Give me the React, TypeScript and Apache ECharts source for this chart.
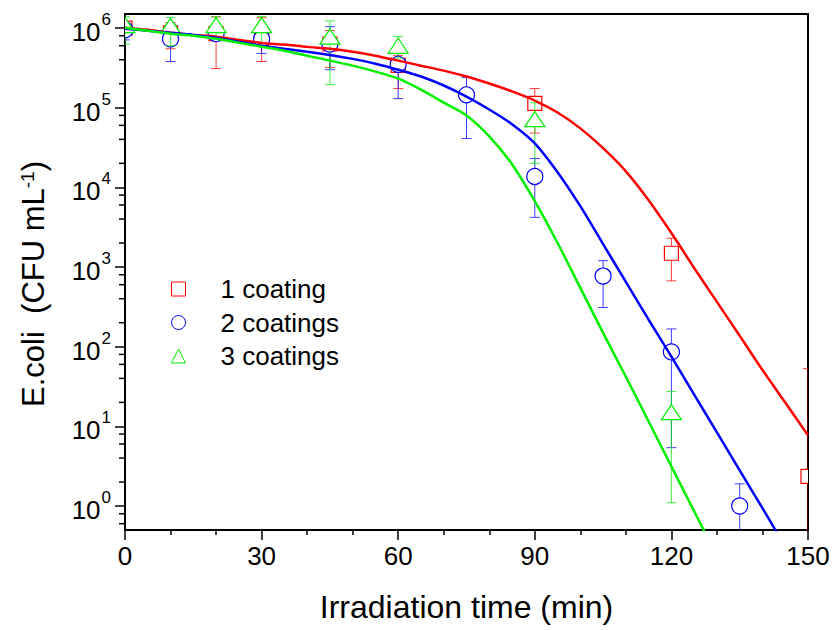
import React, { useEffect, useRef } from 'react';
import * as echarts from 'echarts';

const FONT = '"Liberation Sans", Arial, Helvetica, sans-serif';
const RED = '#ff0000';
const BLUE = '#0000ff';
const GREEN = '#00f000';

const legendNames = ['1 coating', '2 coatings', '3 coatings'];

// Measured data: 1 coating
const t1 = [0, 10, 20, 30, 45, 60, 90, 120, 150];
const v1 = [1.0e6, 8.7e5, 8.5e5, 7.4e5, 6.3e5, 3.4e5, 1.13e5, 1.49e3, 2.35];
const lo1 = [9.0e5, 5.5e5, 3.1e5, 3.8e5, 3.2e5, 1.74e5, 4.8e4, 670, 0.1];
const hi1 = [1.15e6, 1.17e6, 1.38e6, 1.35e6, 9.3e5, 4.5e5, 1.74e5, 2.3e3, 53];

// Measured data: 2 coatings
const t2 = [0, 10, 20, 30, 45, 60, 75, 90, 105, 120, 135];
const v2 = [9.5e5, 7.3e5, 8.5e5, 7.3e5, 6.3e5, 3.5e5, 1.45e5, 1.37e4, 770, 86, 1.0];
const lo2 = [7.1e5, 3.8e5, 7.0e5, 4.8e5, 3.0e5, 1.3e5, 4.1e4, 4.2e3, 310, 5.4, 0.1];
const hi2 = [1.1e6, 1.12e6, 1.0e6, 9.3e5, 1.04e6, 4.9e5, 2.4e5, 2.3e4, 1.2e3, 167, 1.9];

// Measured data: 3 coatings
const t3 = [0, 10, 20, 30, 45, 60, 90, 120];
const v3 = [1.07e6, 1.05e6, 1.07e6, 1.07e6, 7.7e5, 5.9e5, 7.1e4, 14.9];
const lo3 = [6.3e5, 6.0e5, 7.3e5, 6.0e5, 1.95e5, 4.2e5, 2.0e4, 1.1];
const hi3 = [1.38e6, 1.35e6, 1.38e6, 1.4e6, 1.23e6, 7.8e5, 1.15e5, 27.4];

// Fitted curves (every 5 min)
const fitT = [0, 5, 10, 15, 20, 25, 30, 35, 40, 45, 50, 55, 60, 65, 70, 75, 80, 85, 90, 95, 100, 105, 110, 115, 120, 125, 130, 135, 140, 145, 150];
const fit1 = [1.01e6, 9.5e5, 8.7e5, 8.2e5, 7.8e5, 7.1e5, 6.5e5, 6.2e5, 5.8e5, 5.5e5, 5.05e5, 4.5e5, 3.9e5, 3.37e5, 2.92e5, 2.46e5, 2.01e5, 1.6e5, 1.23e5, 8.7e4, 5.5e4, 3.1e4, 1.59e4, 6.9e3, 2.67e3, 973, 365, 137, 51, 19.9, 7.7];
const fit2 = [9.8e5, 9.25e5, 8.7e5, 8.2e5, 7.55e5, 6.7e5, 6.0e5, 5.5e5, 5.05e5, 4.6e5, 4.1e5, 3.57e5, 3.0e5, 2.46e5, 1.9e5, 1.38e5, 9.5e4, 6.2e4, 3.57e4, 1.55e4, 5.8e3, 1.94e3, 650, 218, 75, 25, 8.4, 2.8, 0.94, 0.31, 0.105];
const fit3 = [1.01e6, 9.25e5, 8.5e5, 8.0e5, 7.35e5, 6.55e5, 5.83e5, 5.2e5, 4.5e5, 3.9e5, 3.37e5, 2.84e5, 2.32e5, 1.69e5, 1.16e5, 8.0e4, 4.36e4, 1.95e4, 6.7e3, 2.0e3, 547, 149, 42, 11.5, 3.14, 0.86, 0.234, 0.064, 0.0175, 0.0048, 0.0013];

// Y axis minor ticks (2,4,6,8 per decade)
const yMinorTicks = [0.6, 0.8, 2, 4, 6, 8, 20, 40, 60, 80, 200, 400, 600, 800, 2e3, 4e3, 6e3, 8e3, 2e4, 4e4, 6e4, 8e4, 2e5, 4e5, 6e5, 8e5];

const xTitle = 'Irradiation time (min)';
const yTitle = 'E.coli  (CFU mL{sup|-1})';

type MarkerKind = 'square' | 'circle' | 'triangle';

function markerShape(kind: MarkerKind, x: number, y: number, color: string) {
  const style = { fill: '#ffffff', stroke: color, lineWidth: 1.2 };
  if (kind === 'square') {
    return { type: 'rect', shape: { x: x - 7, y: y - 7, width: 14, height: 14 }, style };
  }
  if (kind === 'circle') {
    return { type: 'circle', shape: { cx: x, cy: y, r: 8 }, style };
  }
  return {
    type: 'polygon',
    shape: { points: [[x, y - 8], [x + 10, y + 7], [x - 10, y + 7]] },
    style,
  };
}

function errSeries(name: string, color: string, kind: MarkerKind, ts: number[], vs: number[], los: number[], his: number[]) {
  return {
    type: 'custom',
    name,
    clip: true,
    silent: true,
    z: 3,
    data: ts.map((t, i) => [t, vs[i], los[i], his[i]]),
    encode: { x: 0, y: [1, 2, 3] },
    renderItem: (params: any, api: any) => {
      const t = api.value(0);
      const c = api.coord([t, api.value(1)]);
      const lo = api.coord([t, api.value(2)]);
      const hi = api.coord([t, api.value(3)]);
      const cw = 5;
      const ls = { stroke: color, lineWidth: 1, opacity: 0.75 };
      return {
        type: 'group',
        children: [
          { type: 'line', shape: { x1: c[0], y1: lo[1], x2: c[0], y2: hi[1] }, style: ls },
          { type: 'line', shape: { x1: c[0] - cw, y1: lo[1], x2: c[0] + cw, y2: lo[1] }, style: ls },
          { type: 'line', shape: { x1: c[0] - cw, y1: hi[1], x2: c[0] + cw, y2: hi[1] }, style: ls },
          markerShape(kind, c[0], c[1], color),
        ],
      };
    },
  };
}

function fitSeries(name: string, color: string, vals: number[]) {
  return {
    type: 'line',
    name,
    data: fitT.map((t, i) => [t, vals[i]]),
    showSymbol: false,
    smooth: 0.3,
    clip: true,
    silent: true,
    z: 5,
    lineStyle: { color, width: 2.5 },
  };
}

export default function App() {
  const ref = useRef<HTMLDivElement>(null);
  useEffect(() => {
    if (!ref.current) return;
    const chart = echarts.init(ref.current, undefined, { renderer: 'svg' });
    const axisLine = { show: true, onZero: false, lineStyle: { color: '#000', width: 2 } };
    chart.setOption({
      animation: false,
      backgroundColor: '#ffffff',
      textStyle: { fontFamily: FONT },
      grid: { left: 125, right: 26, top: 14, bottom: 100, containLabel: false },
      legend: {
        orient: 'vertical',
        left: 166,
        top: 271,
        itemWidth: 14,
        itemHeight: 14,
        itemGap: 7.5,
        selectedMode: false,
        textStyle: { fontFamily: FONT, fontSize: 26, color: '#000', lineHeight: 25, padding: [0, 0, 0, 30] },
        data: [
          { name: legendNames[0], icon: 'rect', itemStyle: { color: '#fff', borderColor: RED, borderWidth: 1 } },
          { name: legendNames[1], icon: 'circle', itemStyle: { color: '#fff', borderColor: BLUE, borderWidth: 1 } },
          { name: legendNames[2], icon: 'triangle', itemStyle: { color: '#fff', borderColor: GREEN, borderWidth: 1 } },
        ],
      },
      xAxis: [
        {
          type: 'value',
          position: 'bottom',
          min: 0,
          max: 150,
          interval: 30,
          axisLine,
          axisTick: { show: true, length: 10, lineStyle: { color: '#000', width: 1.5 } },
          minorTick: { show: true, splitNumber: 3, length: 5, lineStyle: { color: '#000', width: 1.5 } },
          splitLine: { show: false },
          axisLabel: { fontFamily: FONT, fontSize: 26, color: '#000', margin: 13 },
          name: xTitle,
          nameLocation: 'middle',
          nameGap: 61,
          nameTextStyle: { fontFamily: FONT, fontSize: 32, color: '#000' },
        },
        {
          type: 'value',
          position: 'top',
          min: 0,
          max: 150,
          axisLine,
          axisTick: { show: false },
          axisLabel: { show: false },
          splitLine: { show: false },
        },
      ],
      yAxis: [
        {
          type: 'log',
          logBase: 10,
          position: 'left',
          min: 0.5,
          max: 1.5e6,
          axisLine,
          axisTick: { show: true, length: 10, lineStyle: { color: '#000', width: 1.5 } },
          splitLine: { show: false },
          axisLabel: {
            showMinLabel: false,
            showMaxLabel: false,
            margin: 14,
            color: '#000',
            formatter: (v: number) => {
              const e = Math.log10(v);
              const n = Math.round(e);
              if (Math.abs(e - n) > 1e-6) return '';
              return `{b|10}{s|${n}}`;
            },
            rich: {
              b: { fontFamily: FONT, fontSize: 26, color: '#000', padding: [8, 0, 0, 0], verticalAlign: 'bottom' },
              s: { fontFamily: FONT, fontSize: 17, color: '#000', verticalAlign: 'top', padding: [0, 0, 0, 1] },
            },
          },
          name: yTitle,
          nameLocation: 'middle',
          nameGap: 76,
          nameTextStyle: {
            fontFamily: FONT,
            fontSize: 31,
            color: '#000',
            padding: [0, 24, 0, 0],
            rich: {
              sup: { fontFamily: FONT, fontSize: 19, color: '#000', verticalAlign: 'top' },
            },
          },
        },
        {
          type: 'log',
          logBase: 10,
          position: 'right',
          min: 0.5,
          max: 1.5e6,
          axisLine,
          axisTick: { show: false },
          axisLabel: { show: false },
          splitLine: { show: false },
        },
      ],
      series: [
        {
          type: 'custom',
          name: 'yminor',
          silent: true,
          clip: false,
          z: 2,
          data: yMinorTicks.map((v) => [0, v]),
          encode: { x: 0, y: 1 },
          renderItem: (params: any, api: any) => {
            const p = api.coord([0, api.value(1)]);
            return {
              type: 'line',
              shape: { x1: p[0] - 6, y1: p[1], x2: p[0], y2: p[1] },
              style: { stroke: '#000', lineWidth: 1.5 },
            };
          },
        },
        errSeries(legendNames[0], RED, 'square', t1, v1, lo1, hi1),
        errSeries(legendNames[1], BLUE, 'circle', t2, v2, lo2, hi2),
        errSeries(legendNames[2], GREEN, 'triangle', t3, v3, lo3, hi3),
        fitSeries('fit 1 coating', RED, fit1),
        fitSeries('fit 2 coatings', BLUE, fit2),
        fitSeries('fit 3 coatings', GREEN, fit3),
      ],
    });
    return () => chart.dispose();
  }, []);
  return <div ref={ref} style={{ position: 'fixed', left: 0, top: 0, width: 834, height: 630, background: '#fff' }} />;
}
